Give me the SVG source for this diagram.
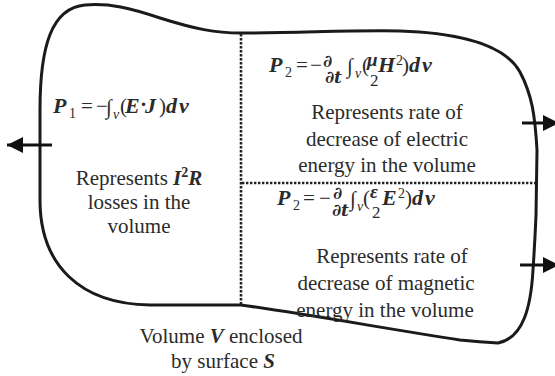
<svg xmlns="http://www.w3.org/2000/svg" width="555" height="376" viewBox="0 0 555 376">
<defs>
<marker id="ah" markerUnits="userSpaceOnUse" markerWidth="18" markerHeight="18" refX="16" refY="8" orient="auto">
<path d="M0,0 L16,8 L0,16 Z" fill="#111"/>
</marker>
</defs>

<g id="surface" fill="none" stroke="#1a1a1a" stroke-width="3" stroke-linejoin="round">
<path d="M40,200 L40,110 C40,45 52,8 85,5 C110,3 130,8 160,18 C195,29 215,33 241,33 C300,33 350,30 400,31 C460,33 505,45 520,72 C532,95 535,115 537,150 L536,215 C535,240 534,255 533,270 C531,305 524,338 498,343 C480,342 470,341 460,340 C400,331 300,313 241,305 L150,305 C80,304 40,265 40,200 Z"/>
</g>

<g id="dividers" fill="none" stroke="#222" stroke-width="2.6" stroke-dasharray="2.4 1.6">
<line x1="241" y1="34" x2="241" y2="304"/>
<line x1="242" y1="183" x2="536" y2="183"/>
</g>

<g id="connectors" fill="none" stroke="#111" stroke-width="3.2">
<line x1="52" y1="145" x2="7" y2="145" marker-end="url(#ah)"/>
<line x1="522" y1="123" x2="559" y2="123" marker-end="url(#ah)"/>
<line x1="520" y1="265" x2="559" y2="265" marker-end="url(#ah)"/>
</g>

<g id="node-p1" fill="#2b2b2b">
<text font-family="Liberation Serif" font-size="22" font-weight="bold" font-style="italic" x="53" y="113">P</text>
<text font-family="Liberation Serif" font-size="14" x="69" y="118">1</text>
<text font-family="Liberation Serif" font-size="21" x="81" y="113">=</text>
<text font-family="Liberation Serif" font-size="21" x="96" y="113">−</text>
<text font-family="Liberation Serif" font-size="21" x="106" y="114">∫</text>
<text font-family="Liberation Serif" font-size="14" font-style="italic" x="113" y="119">v</text>
<text font-family="Liberation Serif" font-size="21" x="120" y="113">(</text>
<text font-family="Liberation Serif" font-size="22" font-weight="bold" font-style="italic" x="125" y="113">E</text>
<text font-family="Liberation Serif" font-size="21" font-weight="bold" x="140" y="111">·</text>
<text font-family="Liberation Serif" font-size="22" font-weight="bold" font-style="italic" x="145" y="113">J</text>
<text font-family="Liberation Serif" font-size="21" x="159" y="113">)</text>
<text font-family="Liberation Serif" font-size="22" font-weight="bold" font-style="italic" x="166" y="113">d<tspan dx="2">v</tspan></text>
<text font-family="Liberation Serif" font-size="21" text-anchor="middle" x="139" y="185">Represents <tspan font-weight="bold" font-style="italic">I</tspan><tspan font-size="14" dy="-8" font-weight="bold">2</tspan><tspan font-weight="bold" font-style="italic" dy="8">R</tspan></text>
<text font-family="Liberation Serif" font-size="21" text-anchor="middle" x="139" y="209">losses in the</text>
<text font-family="Liberation Serif" font-size="21" text-anchor="middle" x="139" y="233">volume</text>
</g>

<g id="node-p2-top" fill="#2b2b2b">
<text font-family="Liberation Serif" font-size="22" font-weight="bold" font-style="italic" x="269" y="72">P</text>
<text font-family="Liberation Serif" font-size="14" x="285" y="77">2</text>
<text font-family="Liberation Serif" font-size="21" x="296" y="72">=</text>
<text font-family="Liberation Serif" font-size="21" x="310" y="72">−</text>
<text font-family="DejaVu Serif" font-size="17" font-weight="bold" x="323" y="67">∂</text>
<text font-family="DejaVu Serif" font-size="17" font-weight="bold" x="325" y="83">∂<tspan font-style="italic">t</tspan></text>
<text font-family="Liberation Serif" font-size="21" x="347" y="73">∫</text>
<text font-family="Liberation Serif" font-size="14" font-style="italic" x="355" y="78">v</text>
<text font-family="Liberation Serif" font-size="21" x="362" y="72">(</text>
<text font-family="Liberation Serif" font-size="19" font-weight="bold" font-style="italic" x="367" y="66">μ</text>
<text font-family="Liberation Serif" font-size="17" x="370" y="86">2</text>
<text font-family="Liberation Serif" font-size="22" font-weight="bold" font-style="italic" x="378" y="72">H</text>
<text font-family="Liberation Serif" font-size="14" x="396" y="65">2</text>
<text font-family="Liberation Serif" font-size="21" x="402" y="72">)</text>
<text font-family="Liberation Serif" font-size="22" font-weight="bold" font-style="italic" x="409" y="72">d<tspan dx="2">v</tspan></text>
<text font-family="Liberation Serif" font-size="21" text-anchor="middle" x="387" y="119">Represents rate of</text>
<text font-family="Liberation Serif" font-size="21" text-anchor="middle" x="387" y="146">decrease of electric</text>
<text font-family="Liberation Serif" font-size="21" text-anchor="middle" x="387" y="172">energy in the volume</text>
</g>

<g id="node-p2-bottom" fill="#2b2b2b">
<text font-family="Liberation Serif" font-size="22" font-weight="bold" font-style="italic" x="277" y="205">P</text>
<text font-family="Liberation Serif" font-size="14" x="293" y="210">2</text>
<text font-family="Liberation Serif" font-size="21" x="303" y="205">=</text>
<text font-family="Liberation Serif" font-size="21" x="319" y="205">−</text>
<text font-family="DejaVu Serif" font-size="17" font-weight="bold" x="333" y="199">∂</text>
<text font-family="DejaVu Serif" font-size="17" font-weight="bold" x="332" y="216">∂<tspan font-style="italic">t</tspan></text>
<text font-family="Liberation Serif" font-size="21" x="350" y="206">∫</text>
<text font-family="Liberation Serif" font-size="14" font-style="italic" x="357" y="211">v</text>
<text font-family="Liberation Serif" font-size="21" x="363" y="205">(</text>
<text font-family="Liberation Serif" font-size="19" font-weight="bold" font-style="italic" x="370" y="198">ε</text>
<text font-family="Liberation Serif" font-size="17" x="372" y="218">2</text>
<text font-family="Liberation Serif" font-size="22" font-weight="bold" font-style="italic" x="382" y="205">E</text>
<text font-family="Liberation Serif" font-size="14" x="398" y="198">2</text>
<text font-family="Liberation Serif" font-size="21" x="405" y="205">)</text>
<text font-family="Liberation Serif" font-size="22" font-weight="bold" font-style="italic" x="412" y="205">d<tspan dx="2">v</tspan></text>
<text font-family="Liberation Serif" font-size="21" text-anchor="middle" x="392" y="263">Represents rate of</text>
<text font-family="Liberation Serif" font-size="21" text-anchor="middle" x="386" y="290">decrease of magnetic</text>
<text font-family="Liberation Serif" font-size="21" text-anchor="middle" x="385" y="317">energy in the volume</text>
</g>

<g id="label-volume" fill="#2b2b2b">
<text font-family="Liberation Serif" font-size="21" text-anchor="middle" x="221" y="343">Volume <tspan font-weight="bold" font-style="italic">V</tspan> enclosed</text>
<text font-family="Liberation Serif" font-size="21" text-anchor="middle" x="223" y="368">by surface <tspan font-weight="bold" font-style="italic">S</tspan></text>
</g>
</svg>
